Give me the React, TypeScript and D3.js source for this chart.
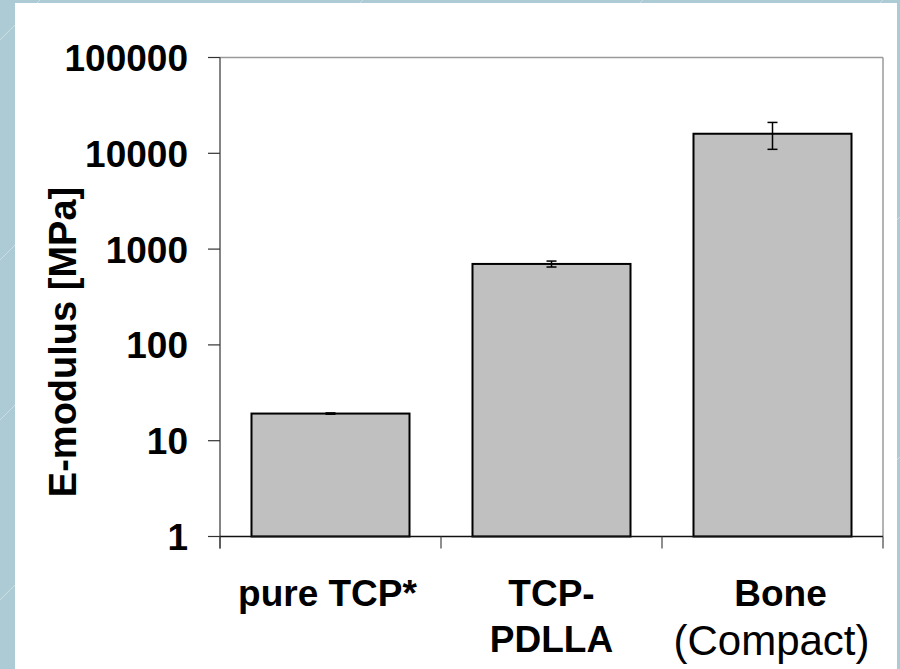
import React from "react";
import * as d3 from "d3";

const categories = ["pure TCP*", "TCP-PDLLA", "Bone (Compact)"];
const labelLine1 = ["pure TCP*", "TCP-", "Bone"];
const labelLine2 = ["", "PDLLA", "(Compact)"];
const labelLine2Bold = [true, true, false];
const values = [19.2, 700, 16000];
const errors = [0.3, 50, 5000];
const yTicks = [1, 10, 100, 1000, 10000, 100000];

const W = 900;
const H = 669;
const margin = { left: 220, right: 17, top: 57.5, bottom: 132.5 };

export default function App() {
  const x = d3
    .scaleBand<string>()
    .domain(categories)
    .range([margin.left, W - margin.right])
    .paddingInner(0.285)
    .paddingOuter(0.1425);
  const y = d3
    .scaleLog()
    .domain([1, 100000])
    .range([H - margin.bottom, margin.top]);
  const x0 = margin.left;
  const x1 = W - margin.right;
  const y0 = H - margin.bottom;
  const y1 = margin.top;
  const step = x.step();
  const boundaries = d3.range(categories.length + 1).map((i) => x0 + i * step);
  const font = "Arial, 'Liberation Sans', sans-serif";
  const diag = [
    [0, 40, 60, -20],
    [0, 260, 15, 245],
    [0, 420, 15, 405],
    [0, 600, 15, 585],
    [360, 3, 366, -3],
    [640, 3, 646, -3],
    [880, 3, 886, -3],
    [897, 220, 900, 217],
    [897, 460, 900, 457],
  ];
  return (
    <div style={{ position: "fixed", left: 0, top: 0 }}>
      <svg width={W} height={H} style={{ display: "block" }}>
        <rect x={0} y={0} width={W} height={H} fill="#adcbd5" />
        {diag.map((d, i) => (
          <line key={i} x1={d[0]} y1={d[1]} x2={d[2]} y2={d[3]} stroke="#ffffff" strokeOpacity={0.35} strokeWidth={1} />
        ))}
        <rect x={15} y={3} width={882} height={H - 3} fill="#ffffff" />
        {/* top and right frame */}
        <line x1={x0} y1={y1} x2={x1} y2={y1} stroke="#9a9a9a" strokeWidth={1.5} />
        <line x1={x1} y1={y1} x2={x1} y2={y0} stroke="#9a9a9a" strokeWidth={1.5} />
        {/* bars */}
        {categories.map((c, i) => (
          <rect
            key={c}
            x={x(c)!}
            y={y(values[i])}
            width={x.bandwidth()}
            height={y0 - y(values[i])}
            fill="#c0c0c0"
            stroke="#000"
            strokeWidth={2}
          />
        ))}
        {/* error bars */}
        {categories.map((c, i) => {
          const cx = x(c)! + x.bandwidth() / 2;
          const yt = y(values[i] + errors[i]);
          const yb = y(values[i] - errors[i]);
          return (
            <g key={"e" + c} stroke="#000" strokeWidth={1.5}>
              <line x1={cx} x2={cx} y1={yt} y2={yb} />
              <line x1={cx - 5} x2={cx + 5} y1={yt} y2={yt} />
              <line x1={cx - 5} x2={cx + 5} y1={yb} y2={yb} />
            </g>
          );
        })}
        {/* y axis */}
        <line x1={x0} y1={y1} x2={x0} y2={y0 + 12} stroke="#333" strokeWidth={1.2} />
        {yTicks.map((t) => (
          <g key={t}>
            <line x1={x0 - 12} x2={x0} y1={y(t)} y2={y(t)} stroke="#333" strokeWidth={1.2} />
            <text
              x={188}
              y={y(t) + 13.5}
              textAnchor="end"
              fontFamily={font}
              fontWeight="bold"
              fontSize={37}
              fill="#000"
            >
              {t}
            </text>
          </g>
        ))}
        {/* x axis */}
        <line x1={x0} y1={y0} x2={x1} y2={y0} stroke="#111" strokeWidth={1.5} />
        {boundaries.map((b, i) => (
          <line key={i} x1={b} x2={b} y1={y0} y2={y0 + 12} stroke="#444" strokeWidth={1.2} />
        ))}
        {categories.map((c, i) => {
          const cx = x(c)! + x.bandwidth() / 2;
          return (
            <g key={"l" + c} fontFamily={font} fill="#000" textAnchor="middle">
              <text x={cx - (i === 0 ? 3 : 0) + (i === 2 ? 8 : 0)} y={606} fontWeight="bold" fontSize={37}>
                {labelLine1[i]}
              </text>
              {labelLine2[i] && (
                <text
                  x={cx - (i === 2 ? 1 : 0)}
                  y={labelLine2Bold[i] ? 652 : 655}
                  fontWeight={labelLine2Bold[i] ? "bold" : "normal"}
                  fontSize={labelLine2Bold[i] ? 37 : 42}
                >
                  {labelLine2[i]}
                </text>
              )}
            </g>
          );
        })}
        {/* y title */}
        <text
          transform={`translate(76, ${(y0 + y1) / 2 + 45}) rotate(-90)`}
          textAnchor="middle"
          fontFamily={font}
          fontWeight="bold"
          fontSize={38}
          fill="#000"
        >
          E-modulus [MPa]
        </text>
      </svg>
    </div>
  );
}
